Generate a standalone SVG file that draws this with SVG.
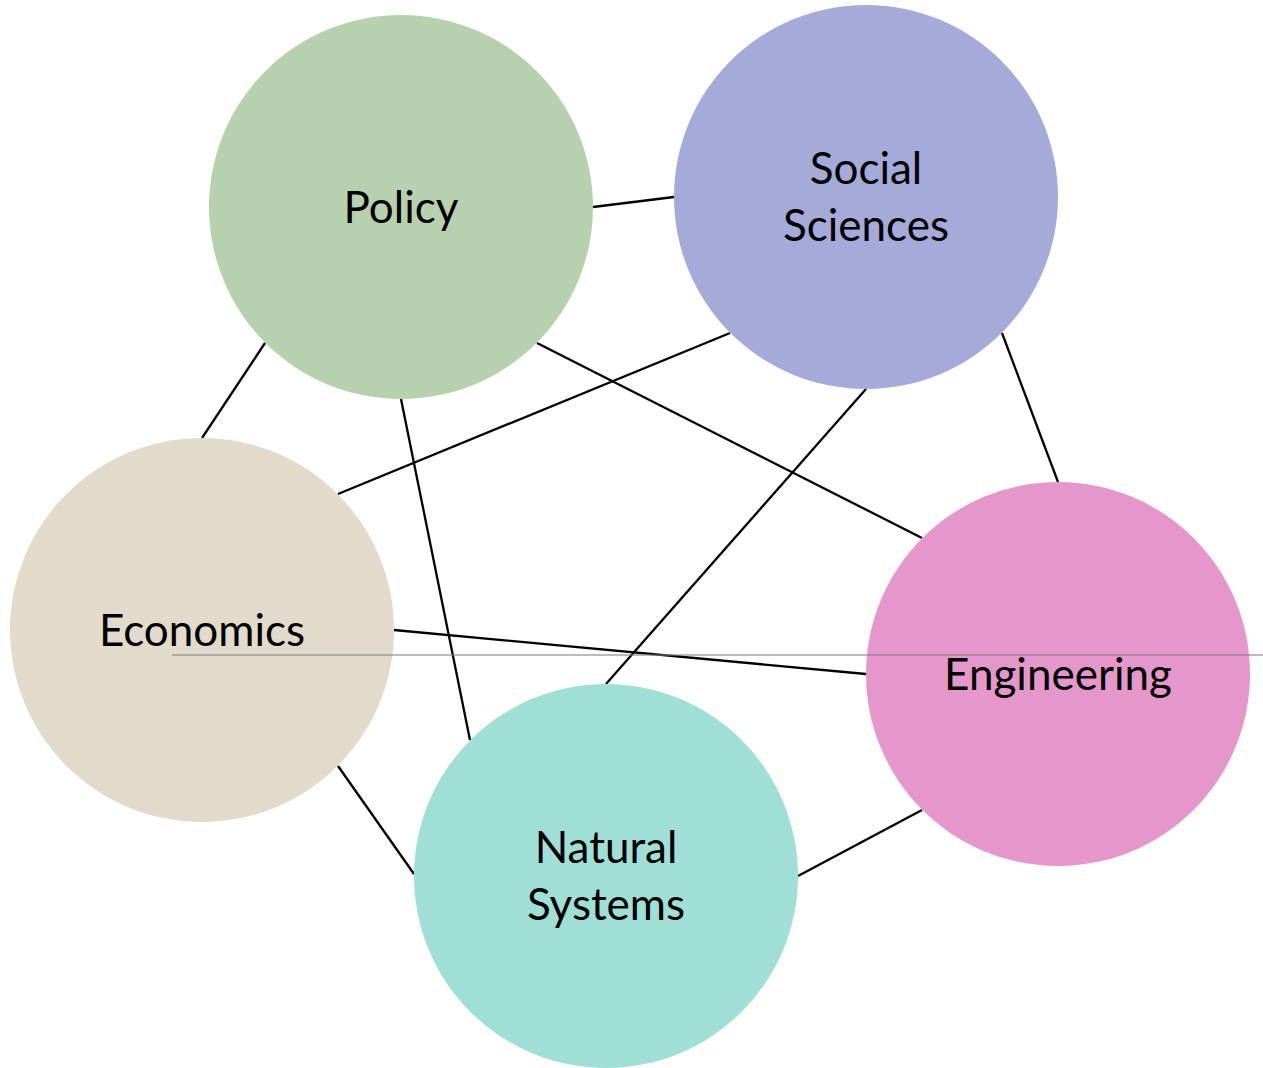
<svg xmlns="http://www.w3.org/2000/svg" width="1263" height="1068" viewBox="0 0 1263 1068">
  <style>
    .node circle { stroke: none; }
    .label { font-family: Lato, "Open Sans", "Liberation Sans", sans-serif; font-size: 44px; fill: #000; text-anchor: middle; }
    .links line { stroke: #000; stroke-width: 2.3; stroke-linecap: butt; }
    .guide { stroke: #808080; stroke-opacity: 0.7; stroke-width: 1.6; }
  </style>
  <rect width="1263" height="1068" fill="#ffffff"/>

  <g class="links">
    <line x1="593" y1="207" x2="674" y2="197"/>
    <line x1="265" y1="343" x2="202" y2="438"/>
    <line x1="537" y1="343" x2="922" y2="538"/>
    <line x1="401" y1="399" x2="470" y2="740"/>
    <line x1="730" y1="333" x2="338" y2="494"/>
    <line x1="866" y1="389" x2="606" y2="684"/>
    <line x1="1002" y1="333" x2="1058" y2="482"/>
    <line x1="394" y1="630" x2="866" y2="674"/>
    <line x1="338" y1="766" x2="414" y2="874"/>
    <line x1="798" y1="876" x2="922" y2="810"/>
  </g>

  <g id="policy" class="node">
    <circle cx="401" cy="207" r="192" fill="#B7D1AE"/>
    <text class="label" x="401" y="223">Policy</text>
  </g>
  <g id="social-sciences" class="node">
    <circle cx="866" cy="197" r="192" fill="#A5AAD9"/>
    <text class="label" x="866" y="184">Social</text>
    <text class="label" x="866" y="241">Sciences</text>
  </g>
  <g id="economics" class="node">
    <circle cx="202" cy="630" r="192" fill="#E2DBCC"/>
    <text class="label" x="202" y="646">Economics</text>
  </g>
  <g id="engineering" class="node">
    <circle cx="1058" cy="674" r="192" fill="#E597CB"/>
    <text class="label" x="1058" y="690">Engineering</text>
  </g>
  <g id="natural-systems" class="node">
    <circle cx="606" cy="876" r="192" fill="#A0DFD6"/>
    <text class="label" x="606" y="863">Natural</text>
    <text class="label" x="606" y="920">Systems</text>
  </g>

  <line class="guide" x1="172" y1="655" x2="1263" y2="655"/>
</svg>
